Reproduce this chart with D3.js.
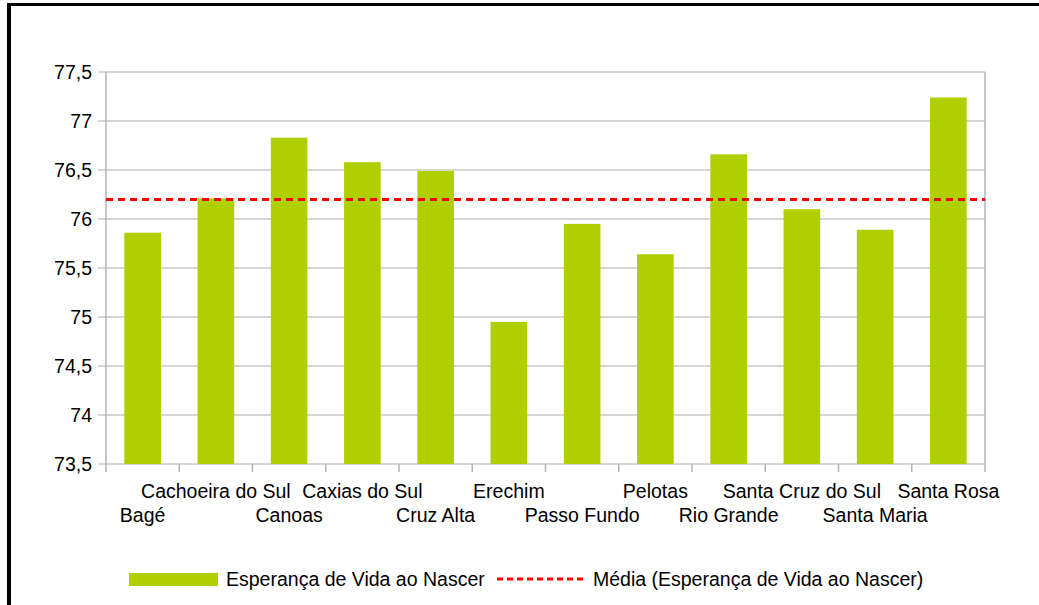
<!DOCTYPE html>
<html>
<head>
<meta charset="utf-8">
<script src="https://cdn.jsdelivr.net/npm/d3@7"></script>
<style>
  body { margin: 0; background: #fff; }
  svg text { font-family: "Liberation Sans", Arial, sans-serif; fill: #000; }
</style>
</head>
<body>
<svg id="chart" width="1039" height="605"></svg>
<script>
// dados
const cidades = ["Bagé", "Cachoeira do Sul", "Canoas", "Caxias do Sul", "Cruz Alta", "Erechim",
    "Passo Fundo", "Pelotas", "Rio Grande", "Santa Cruz do Sul", "Santa Maria", "Santa Rosa"];
const esperanca = [75.86, 76.21, 76.83, 76.58, 76.49, 74.95, 75.95, 75.64, 76.66, 76.10, 75.89, 77.24];
const media = [76.2, 76.2, 76.2, 76.2, 76.2, 76.2, 76.2, 76.2, 76.2, 76.2, 76.2, 76.2];
const yTicks = [73.5, 74, 74.5, 75, 75.5, 76, 76.5, 77, 77.5];
const legendas = ["Esperança de Vida ao Nascer", "Média (Esperança de Vida ao Nascer)"];

const margin = { top: 72, right: 54, bottom: 141, left: 106 };
const width = 1039 - margin.left - margin.right;
const height = 605 - margin.top - margin.bottom;
const fontSize = "19.5px";

const svg = d3.select("#chart");

// moldura
svg.append("line").attr("x1", 9).attr("x2", 9).attr("y1", 3).attr("y2", 605)
    .attr("stroke", "#000").attr("stroke-width", 4);
svg.append("line").attr("x1", 7).attr("x2", 1039).attr("y1", 4.5).attr("y2", 4.5)
    .attr("stroke", "#000").attr("stroke-width", 3);

const g = svg.append("g").attr("transform", `translate(${margin.left},${margin.top})`);

const x = d3.scaleBand().domain(cidades).range([0, width]).paddingInner(0.5).paddingOuter(0.25);
const y = d3.scaleLinear().domain([73.5, 77.5]).range([height, 0]);

// grade
g.append("g").selectAll("line").data(yTicks).join("line")
    .attr("x1", -8).attr("x2", width)
    .attr("y1", d => y(d)).attr("y2", d => y(d))
    .attr("stroke", "#c8c8c8").attr("stroke-width", 1.5);

g.append("line").attr("x1", 0).attr("x2", 0).attr("y1", 0).attr("y2", height)
    .attr("stroke", "#b3b3b3").attr("stroke-width", 1.5);
g.append("line").attr("x1", width).attr("x2", width).attr("y1", 0).attr("y2", height)
    .attr("stroke", "#b3b3b3").attr("stroke-width", 1.5);

// ticks eixo x nas bordas das categorias
const xEdges = d3.range(cidades.length + 1).map(i => i * width / cidades.length);
g.append("g").selectAll("line").data(xEdges).join("line")
    .attr("x1", d => d).attr("x2", d => d)
    .attr("y1", height).attr("y2", height + 8)
    .attr("stroke", "#b3b3b3").attr("stroke-width", 1.5);

// barras
g.append("g").selectAll("rect").data(esperanca).join("rect")
    .attr("x", (d, i) => x(cidades[i]))
    .attr("width", x.bandwidth())
    .attr("y", d => y(d))
    .attr("height", d => height - y(d))
    .attr("fill", "#b0cf00");

// linha da média
const line = d3.line()
    .x((d, i) => i === 0 ? 0 : i === media.length - 1 ? width : x(cidades[i]) + x.bandwidth() / 2)
    .y(d => y(d));
g.append("path").datum(media)
    .attr("d", line)
    .attr("fill", "none")
    .attr("stroke", "#ff0000")
    .attr("stroke-width", 3)
    .attr("stroke-dasharray", "7,5");

// rótulos eixo y
g.append("g").selectAll("text").data(yTicks).join("text")
    .attr("x", -14).attr("y", d => y(d))
    .attr("dy", "0.36em")
    .attr("text-anchor", "end")
    .style("font-size", fontSize)
    .text(d => d3.format(".1f")(d).replace(".0", "").replace(".", ","));

// rótulos eixo x (duas linhas alternadas)
g.append("g").selectAll("text").data(cidades).join("text")
    .attr("x", d => x(d) + x.bandwidth() / 2)
    .attr("y", (d, i) => height + (i % 2 === 1 ? 34 : 58))
    .attr("text-anchor", "middle")
    .style("font-size", fontSize)
    .text(d => d);

// legenda
const leg = svg.append("g").attr("transform", "translate(0,579)");
leg.append("rect").attr("x", 129).attr("y", -6).attr("width", 89).attr("height", 13)
    .attr("fill", "#b0cf00");
leg.append("text").attr("x", 226).attr("y", 0).attr("dy", "0.36em")
    .style("font-size", fontSize).text(legendas[0]);
leg.append("line").attr("x1", 497).attr("x2", 587).attr("y1", 0).attr("y2", 0)
    .attr("stroke", "#ff0000").attr("stroke-width", 3).attr("stroke-dasharray", "6,4");
leg.append("text").attr("x", 593).attr("y", 0).attr("dy", "0.36em")
    .style("font-size", fontSize).text(legendas[1]);
</script>
</body>
</html>
